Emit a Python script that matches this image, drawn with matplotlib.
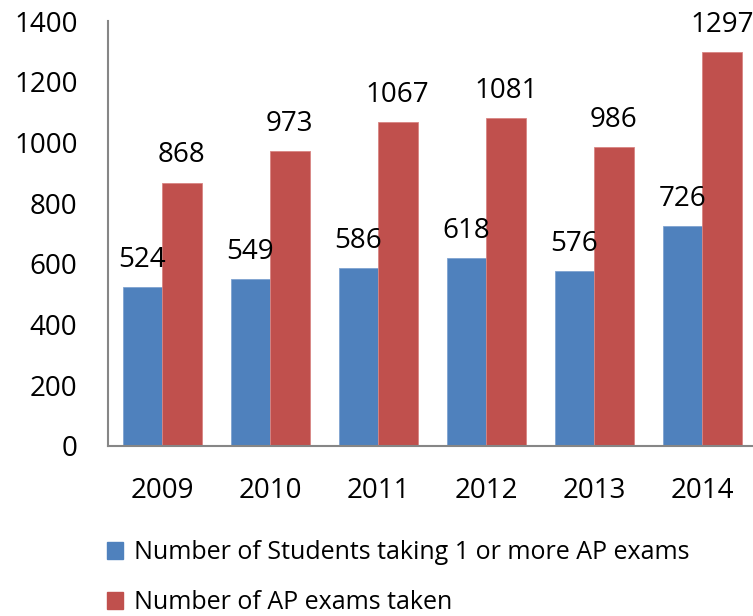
import matplotlib
matplotlib.use("Agg")
import matplotlib.pyplot as plt
import numpy as np
from matplotlib.patches import Patch

years = ["2009", "2010", "2011", "2012", "2013", "2014"]
students = [524, 549, 586, 618, 576, 726]
exams = [868, 973, 1067, 1081, 986, 1297]
series_names = ["Number of Students taking 1 or more AP exams", "Number of AP exams taken"]
colors = ["#4F81BD", "#C0504D"]
yticks = [0, 200, 400, 600, 800, 1000, 1200, 1400]

plt.rcParams['font.family'] = ['Open Sans', 'DejaVu Sans']

W, H = 753, 616
fig = plt.figure(figsize=(W / 100, H / 100), dpi=100)
left, right, bottom, top = 108, 756, 446, 21
ax = fig.add_axes([left / W, 1 - bottom / H, (right - left) / W, (bottom - top) / H])

x = np.arange(len(years))
bw = 39.5 / 108
ax.bar(x - bw / 2, students, bw, color=colors[0], edgecolor="#7FA3D1", linewidth=0.6)
ax.bar(x + bw / 2, exams, bw, color=colors[1], edgecolor="#D88583", linewidth=0.6)

for xi, v in zip(x - bw / 2, students):
    ax.annotate(str(v), (xi, v), xytext=(0, 20), textcoords="offset pixels",
                ha="center", va="baseline", fontsize=20, annotation_clip=False)
for xi, v in zip(x + bw / 2, exams):
    ax.annotate(str(v), (xi, v), xytext=(0, 20), textcoords="offset pixels",
                ha="center", va="baseline", fontsize=20, annotation_clip=False)

ax.set_xlim(-0.5, len(years) - 0.5)
ax.set_ylim(0, 1400)
ax.set_yticks(yticks)
ax.set_yticklabels([str(t) for t in yticks], fontsize=20)
ax.set_xticks(x)
ax.set_xticklabels(years, fontsize=20)
ax.tick_params(axis="both", length=0)
ax.tick_params(axis="y", pad=22)
ax.tick_params(axis="x", pad=22)
for s in ["top", "right"]:
    ax.spines[s].set_visible(False)
for s in ["left", "bottom"]:
    ax.spines[s].set_color("#868686")
    ax.spines[s].set_linewidth(1.5)

handles = [Patch(color=colors[0]), Patch(color=colors[1])]
fig.legend(handles, series_names, loc="upper left",
           bbox_to_anchor=(97 / W, 1 - 530 / H), frameon=False,
           fontsize=18, handlelength=0.65, handleheight=0.65,
           handletextpad=0.45, labelspacing=1.0, borderaxespad=0)

fig.savefig("out.png", dpi=100)
